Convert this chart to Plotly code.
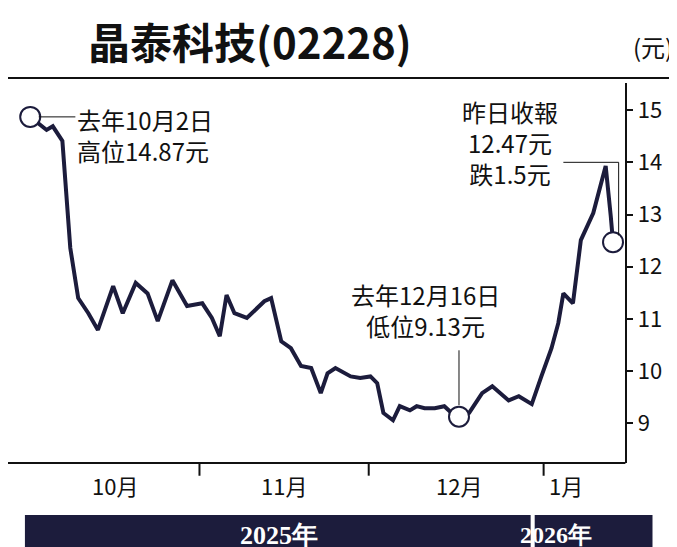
import plotly.graph_objects as go

# days since 30 Sep 2025, closing price (HK$)
days = [2, 4.9, 6, 6.7, 7.7, 9.1, 10.5, 12.3, 14, 16.7, 18.4, 20.7, 22.8, 24.6, 25.8, 27.2,
        29.8, 32.5, 34.2, 35.6, 36.8, 38.2, 40.4, 43.5, 44.7, 46.5, 48.2, 50, 51.8, 53.5,
        54.7, 56.1, 58.8, 60.5, 62.3, 63.5, 64.6, 66.3, 67.5, 69.3, 70.5, 71.9, 73.7, 75.4,
        76.7, 78, 79.8, 82.1, 83.9, 86.8, 88.6, 90.9, 92.6, 94.4, 95.6, 96.5, 98.2, 99.6,
        101.8, 104, 104.9, 105.3]
price = [14.87, 14.62, 14.69, 14.58, 14.41, 12.36, 11.40, 11.11, 10.79, 11.63, 11.11, 11.69,
         11.49, 10.96, 11.30, 11.74, 11.25, 11.30, 11.02, 10.67, 11.46, 11.11, 11.02, 11.34,
         11.40, 10.57, 10.44, 10.10, 10.06, 9.58, 9.96, 10.06, 9.90, 9.87, 9.90, 9.77, 9.20,
         9.06, 9.33, 9.25, 9.33, 9.29, 9.29, 9.33, 9.20, 9.13, 9.20, 9.58, 9.71, 9.44, 9.52,
         9.37, 9.90, 10.44, 10.92, 11.49, 11.30, 12.51, 13.03, 13.93, 12.97, 12.47]
month_pos = [17, 47, 78, 97]
month_labels = ['10月', '11月', '12月', '1月']
month_edges = [32, 62, 93]
yticks = [9, 10, 11, 12, 13, 14, 15]

navy = '#1c1c3c'
font = 'Noto Sans CJK TC'
x0, x1 = -0.5, 107.5   # x range

fig = go.Figure()
fig.add_trace(go.Scatter(x=days, y=price, mode='lines',
                         line=dict(color=navy, width=4), hoverinfo='skip'))
mk = [0, 45, len(days) - 1]
fig.add_trace(go.Scatter(x=[days[i] for i in mk], y=[price[i] for i in mk], mode='markers',
                         marker=dict(size=20, color='white', line=dict(color=navy, width=2)),
                         hoverinfo='skip'))

fig.update_layout(
    width=677, height=547, margin=dict(l=0, r=0, t=0, b=0),
    paper_bgcolor='white', plot_bgcolor='rgba(0,0,0,0)', showlegend=False,
    font=dict(family=font, color='#111', size=22),
    xaxis=dict(domain=[0.012, 0.912], range=[x0, x1], showgrid=False, zeroline=False,
               showticklabels=False, showline=False),
    yaxis=dict(domain=[0.168, 0.863], range=[8.24, 15.52], side='right', showgrid=False,
               zeroline=False, tickvals=yticks, ticks='outside', ticklen=6, tickwidth=2,
               tickcolor='#111', showline=True, linecolor='#111', linewidth=2,
               tickfont=dict(size=22, family=font)),
)

# title and frame lines
fig.add_annotation(text='<b>晶泰科技(02228)</b>', x=0.115, y=1.0, xref='paper', yref='paper',
                   xanchor='left', yanchor='top', showarrow=False,
                   font=dict(size=42, family=font, color='#111'))
fig.add_annotation(text='(元)', x=0.985, y=0.965, xref='paper', yref='paper',
                   xanchor='right', yanchor='top', showarrow=False, font=dict(size=24))
fig.add_shape(type='line', xref='paper', yref='paper', x0=0, x1=1, y0=0.872, y1=0.872,
              line=dict(color='#111', width=2))
fig.add_shape(type='line', xref='paper', yref='paper', x0=0, x1=0.912, y0=0.168, y1=0.168,
              line=dict(color='#111', width=2))

# months
for p, t in zip(month_pos, month_labels):
    fig.add_annotation(text=t, x=p, y=0.16, xref='x', yref='paper', yanchor='top',
                       showarrow=False, font=dict(size=22))
for e in month_edges:
    fig.add_shape(type='line', xref='x', yref='paper', x0=e, x1=e, y0=0.168, y1=0.145,
                  line=dict(color='#111', width=2))

# year bars
fig.add_shape(type='rect', xref='paper', yref='paper', x0=0.025, x1=0.772, y0=0.0, y1=0.073,
              fillcolor=navy, line_width=0, layer='below')
fig.add_shape(type='rect', xref='paper', yref='paper', x0=0.778, x1=0.952, y0=0.0, y1=0.073,
              fillcolor=navy, line_width=0, layer='below')
fig.add_annotation(text='<b>2025年</b>', x=0.4, y=0.036, xref='paper', yref='paper',
                   yanchor='middle', showarrow=False,
                   font=dict(size=26, color='white', family='Liberation Serif'))
fig.add_annotation(text='<b>2026年</b>', x=0.865, y=0.036, xref='paper', yref='paper',
                   yanchor='middle', showarrow=False,
                   font=dict(size=24, color='white', family='Liberation Serif'))

# callouts
fig.add_shape(type='line', xref='x', yref='y', x0=3.5, x1=10, y0=14.87, y1=14.87,
              line=dict(color='#111', width=1))
fig.add_annotation(text='去年10月2日<br>高位14.87元', x=10, y=14.87, xref='x', yref='y',
                   xanchor='left', yanchor='middle', align='left', showarrow=False,
                   yshift=-18, font=dict(size=24))
fig.add_shape(type='line', xref='x', yref='y', x0=78, x1=78, y0=9.35, y1=10.4,
              line=dict(color='#111', width=1))
fig.add_annotation(text='去年12月16日<br>低位9.13元', x=72, y=10.5, xref='x', yref='y',
                   xanchor='center', yanchor='bottom', showarrow=False, font=dict(size=24))
fig.add_shape(type='path', xref='x', yref='y',
              path='M 96.5,14.0 L 106.3,14.0 L 106.3,12.6',
              line=dict(color='#111', width=1))
fig.add_annotation(text='昨日收報<br>12.47元<br>跌1.5元', x=87, y=15.35, xref='x', yref='y',
                   xanchor='center', yanchor='top', showarrow=False, font=dict(size=24))

fig.write_html('out.html')
